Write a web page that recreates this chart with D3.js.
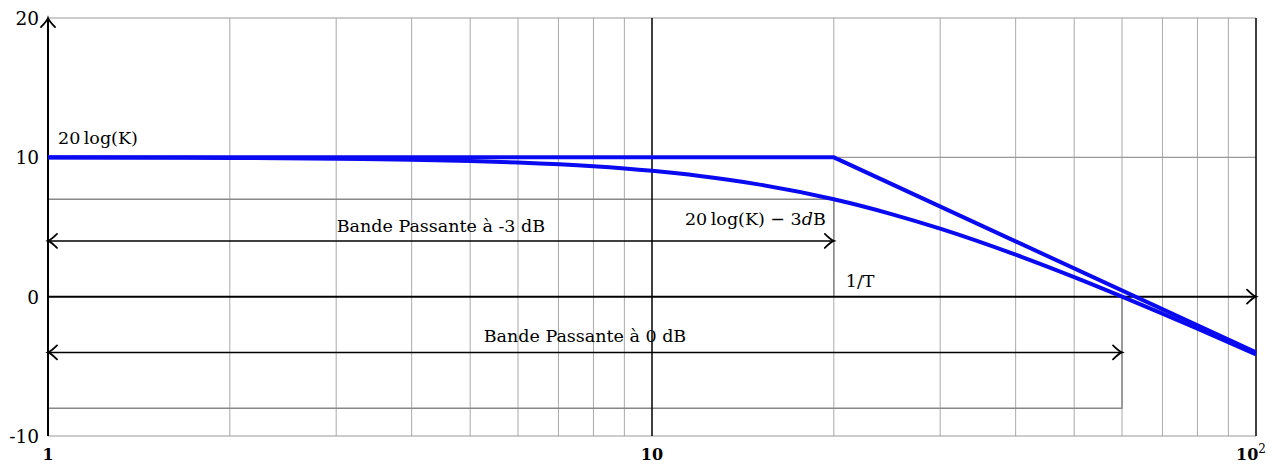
<!DOCTYPE html>
<html>
<head>
<meta charset="utf-8">
<script src="https://cdn.jsdelivr.net/npm/d3@7"></script>
<style>
  body { margin: 0; background: white; }
  svg text { font-family: "DejaVu Serif", serif; }
</style>
</head>
<body>
<div id="grafico"></div>
<script>
// Données
const freqs = [1, 2, 3, 4, 5, 6, 8, 10, 12, 15, 20, 25, 30, 40, 50, 60, 70, 80, 100];
const gainReel = [9.99, 9.96, 9.9, 9.83, 9.74, 9.63, 9.36, 9.03, 8.66, 8.06, 6.99, 5.91, 4.88, 3.01, 1.4, 0, -1.22, -2.3, -4.15];
const asympFreqs = [1, 20, 100];
const asympGain = [10, 10, -4];
const yTicks = [20, 10, 0, -10];
const xTicks = [1, 10, 100];
const xTickLabels = ["1", "10", "10"];
const K_dB = 10;
const coupure = 20;     // 1/T
const bp0 = 60;         // bande passante à 0 dB
const niveauBas = -8;

const width = 1281;
const height = 466;
const marginTop = 18;
const marginRight = 25;
const marginBottom = 30;
const marginLeft = 48;
const fs = 17.5;

const xScale = d3.scaleLog().domain([1, 100]).range([marginLeft, width - marginRight]);
const yScale = d3.scaleLinear().domain([-10, 20]).range([height - marginBottom, marginTop]);

const svg = d3.select("#grafico").append("svg")
  .attr("width", width).attr("height", height);

// grille
const gridX = [];
for (let d = 1; d < 100; d *= 10) for (let k = 2; k <= 9; k++) gridX.push(d * k);
svg.append("g").selectAll("line").data(gridX).enter().append("line")
  .attr("x1", d => xScale(d)).attr("x2", d => xScale(d))
  .attr("y1", yScale(20)).attr("y2", yScale(-10))
  .attr("stroke", "#aaa").attr("stroke-width", 1);
svg.append("g").selectAll("line").data([20, 10, -10]).enter().append("line")
  .attr("x1", xScale(1)).attr("x2", xScale(100))
  .attr("y1", d => yScale(d)).attr("y2", d => yScale(d))
  .attr("stroke", "#999").attr("stroke-width", 1.2);

// repères gris
const gris = "#888";
svg.append("path")
  .attr("d", `M${xScale(1)},${yScale(K_dB - 3)}H${xScale(coupure)}V${yScale(0)}`)
  .attr("fill", "none").attr("stroke", gris).attr("stroke-width", 1.5);
svg.append("path")
  .attr("d", `M${xScale(1)},${yScale(niveauBas)}H${xScale(bp0)}V${yScale(0)}`)
  .attr("fill", "none").attr("stroke", gris).attr("stroke-width", 1.5);

// axes noirs
svg.append("line").attr("x1", xScale(10)).attr("x2", xScale(10))
  .attr("y1", yScale(20)).attr("y2", yScale(-10)).attr("stroke", "black").attr("stroke-width", 1.5);
svg.append("line").attr("x1", xScale(100)).attr("x2", xScale(100))
  .attr("y1", yScale(20)).attr("y2", yScale(-10)).attr("stroke", "black").attr("stroke-width", 1.5);
svg.append("line").attr("x1", xScale(1)).attr("x2", xScale(1))
  .attr("y1", yScale(-10)).attr("y2", yScale(20)).attr("stroke", "black").attr("stroke-width", 2);
svg.append("line").attr("x1", xScale(1)).attr("x2", xScale(100))
  .attr("y1", yScale(0)).attr("y2", yScale(0)).attr("stroke", "black").attr("stroke-width", 2);

const fleche = (x, y, dir) => {
  // dir: angle en degrés (0 = vers la droite)
  svg.append("path")
    .attr("d", "M-9,-7 Q-3,-1 0,0 Q-3,1 -9,7")
    .attr("transform", `translate(${x},${y}) rotate(${dir})`)
    .attr("fill", "none").attr("stroke", "black").attr("stroke-width", 1.8)
    .attr("stroke-linecap", "round");
};
fleche(xScale(1), yScale(20), -90);
fleche(xScale(100), yScale(0), 0);

// flèches bande passante
const bande = (x0, x1, yv) => {
  svg.append("line").attr("x1", xScale(x0)).attr("x2", xScale(x1))
    .attr("y1", yScale(yv)).attr("y2", yScale(yv)).attr("stroke", "black").attr("stroke-width", 1.5);
  fleche(xScale(x0), yScale(yv), 180);
  fleche(xScale(x1), yScale(yv), 0);
};
bande(1, coupure, 4);
bande(1, bp0, -4);

// courbes
const line = d3.line().x(d => xScale(d[0])).y(d => yScale(d[1]));
svg.append("path")
  .datum(freqs.map((f, i) => [f, gainReel[i]]))
  .attr("d", line.curve(d3.curveMonotoneX))
  .attr("fill", "none").attr("stroke", "#0a0af0").attr("stroke-width", 4);
svg.append("path")
  .datum(asympFreqs.map((f, i) => [f, asympGain[i]]))
  .attr("d", d3.line().x(d => xScale(d[0])).y(d => yScale(d[1])))
  .attr("fill", "none").attr("stroke", "#0a0af0").attr("stroke-width", 4);

// graduations
svg.append("g").selectAll("text").data(yTicks).enter().append("text")
  .attr("x", marginLeft - 9).attr("y", d => yScale(d) + 7)
  .attr("text-anchor", "end").attr("font-size", 18.5).text(d => d);
const xt = svg.append("g").selectAll("text").data(xTicks).enter().append("text")
  .attr("x", (d, i) => xScale(d) + (i === 2 ? -5 : 0)).attr("y", 460)
  .attr("text-anchor", "middle").attr("font-size", 16).attr("font-weight", "bold")
  .text((d, i) => xTickLabels[i]);
xt.filter((d, i) => i === 2).append("tspan")
  .attr("dy", -7).attr("font-size", 12).attr("font-weight", "normal").text("2");

// textes
const txt = (x, y, s, anchor) => svg.append("text").attr("x", x).attr("y", y)
  .attr("font-size", fs).attr("text-anchor", anchor || "start").text(s);
txt(xScale(1) + 10, yScale(K_dB) - 13, "20\u2009log(K)");
const t3 = svg.append("text").attr("x", xScale(coupure) - 8).attr("y", yScale(K_dB - 3) + 26)
  .attr("font-size", fs).attr("text-anchor", "end");
t3.append("tspan").text("20\u2009log(K) − 3");
t3.append("tspan").attr("font-style", "italic").text("d");
t3.append("tspan").text("B");
txt(xScale(coupure) + 12, yScale(0) - 10, "1/T");
txt((xScale(1) + xScale(coupure)) / 2, yScale(4) - 9, "Bande Passante à -3 dB", "middle");
txt((xScale(1) + xScale(bp0)) / 2, yScale(-4) - 10, "Bande Passante à 0 dB", "middle");
</script>
</body>
</html>
